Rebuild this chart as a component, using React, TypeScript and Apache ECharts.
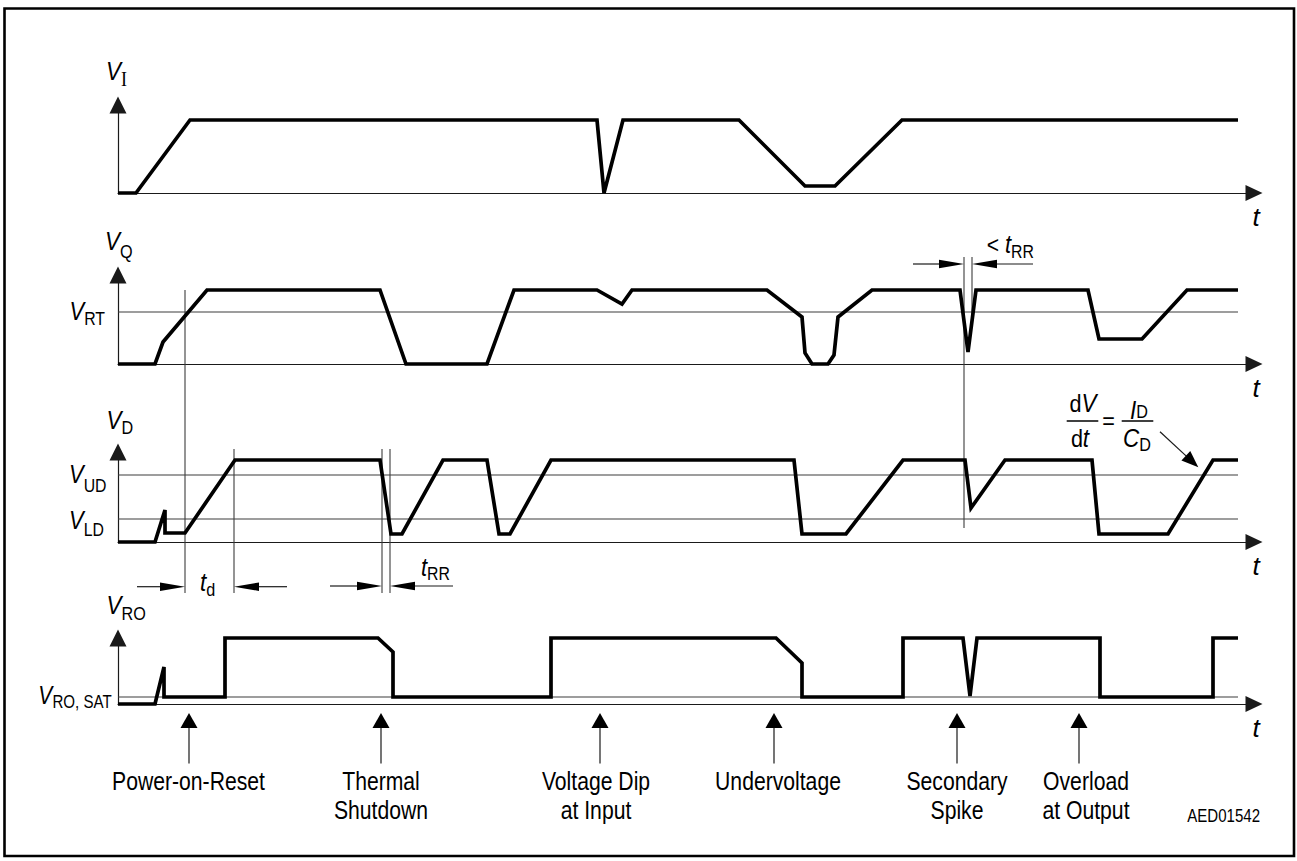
import React, { useEffect, useRef } from 'react';
import * as echarts from 'echarts';

// ---------- data (time in arbitrary units, voltage levels in arbitrary units) ----------
const T_END = 112.0;
const X_MAX = 113.6;

const VI_T = [0, 1.8, 7.2, 47.9, 48.6, 50.5, 62.1, 68.7, 71.7, 78.4, 112.0];
const VI_V = [0, 0, 7.3, 7.3, 0, 7.3, 7.3, 0.7, 0.7, 7.3, 7.3];

const VQ_T = [0, 3.7, 4.5, 8.9, 26.2, 28.8, 36.9, 39.6, 47.9, 50.4, 51.4, 64.9, 68.4, 68.7, 69.4, 71.0, 71.6, 72.0, 75.4, 84.2, 85.0, 85.8, 97.0, 98.1, 102.4, 106.9, 112.0];
const VQ_V = [0, 0, 2.2, 7.4, 7.4, 0, 0, 7.4, 7.4, 6.0, 7.4, 7.4, 4.7, 1.1, 0, 0, 0.9, 4.7, 7.4, 7.4, 1.2, 7.4, 7.4, 2.5, 2.5, 7.4, 7.4];

const VD_T = [0, 3.7, 4.7, 4.7, 6.7, 11.7, 26.2, 27.3, 28.4, 32.5, 36.9, 38.1, 39.2, 43.3, 67.6, 68.4, 72.8, 78.5, 84.7, 85.3, 88.7, 97.4, 98.1, 105.0, 109.5, 112.0];
const VD_V = [0, 0, 3.2, 0.9, 0.9, 8.2, 8.2, 0.8, 0.8, 8.2, 8.2, 0.8, 0.8, 8.2, 8.2, 0.8, 0.8, 8.2, 8.2, 3.4, 8.2, 8.2, 0.8, 0.8, 8.2, 8.2];

const VRO_T = [0, 3.7, 4.6, 4.6, 10.7, 10.7, 26.0, 27.5, 27.5, 43.3, 43.3, 65.8, 68.4, 68.4, 78.5, 78.5, 84.5, 85.2, 85.9, 98.2, 98.2, 109.5, 109.5, 112.0];
const VRO_V = [0, 0, 3.7, 0.7, 0.7, 6.6, 6.6, 5.2, 0.7, 0.7, 6.6, 6.6, 4.1, 0.7, 0.7, 6.6, 6.6, 0.8, 6.6, 6.6, 0.7, 0.7, 6.6, 6.6];

const LEVEL_RT = 5.2;
const LEVEL_UD = 6.7;
const LEVEL_LD = 2.3;
const LEVEL_RO_SAT = 0.7;

const EVENT_LABELS = ['Power-on-Reset', 'Thermal\nShutdown', 'Voltage Dip\nat Input', 'Undervoltage', 'Secondary\nSpike', 'Overload\nat Output'];
const EVENT_T = [7.1, 26.3, 48.2, 65.6, 83.9, 96.1];
const EVENT_LABEL_T = [7.05, 26.3, 47.8, 66.0, 83.9, 96.8];

// guide lines: time, from (grid, value) to (grid, value)
const GUIDES = [
  { t: 6.7, g1: 1, v1: 7.4, g2: 2, v2: -5.1 },
  { t: 11.6, g1: 2, v1: 9.3, g2: 2, v2: -5.1 },
  { t: 26.4, g1: 2, v1: 9.3, g2: 2, v2: -5.1 },
  { t: 27.2, g1: 2, v1: 9.3, g2: 2, v2: -5.1 },
  { t: 84.6, g1: 1, v1: 10.7, g2: 2, v2: 1.4 },
  { t: 85.4, g1: 1, v1: 10.7, g2: 1, v2: 4.0 },
];
// dimension arrows: grid, value, from time -> tip time
const DIMS = [
  { g: 2, v: -4.47, from: 1.9, to: 6.7 },
  { g: 2, v: -4.47, from: 16.9, to: 11.6 },
  { g: 2, v: -4.4, from: 21.2, to: 26.4 },
  { g: 2, v: -4.4, from: 33.5, to: 27.2 },
  { g: 1, v: 10.0, from: 79.5, to: 84.6 },
  { g: 1, v: 10.0, from: 91.5, to: 85.4 },
];

// ---------- layout ----------
const W = 1297;
const H = 861;
const PANELS = [
  { top: 105, bottom: 668, yMax: 8.8 },
  { top: 275, bottom: 497, yMax: 8.9 },
  { top: 452, bottom: 319, yMax: 9.0 },
  { top: 638, bottom: 157, yMax: 6.6 },
];
const FF = 'Liberation Sans';
const THIN = '#3c3c3c';

function wave(g: number, t: number[], v: number[]) {
  return {
    type: 'line', xAxisIndex: g, yAxisIndex: g, data: t.map((x, i) => [x, v[i]]),
    symbol: 'none', showSymbol: false, clip: false, silent: true, z: 5,
    lineStyle: { color: '#000', width: 3.7, join: 'miter', miterLimit: 4 },
    emphasis: { disabled: true },
  };
}
function level(g: number, y: number) {
  return {
    type: 'line', xAxisIndex: g, yAxisIndex: g, data: [[0, y], [T_END, y]],
    symbol: 'none', showSymbol: false, silent: true, z: 3,
    lineStyle: { color: THIN, width: 1.1 },
    emphasis: { disabled: true },
  };
}

function buildOption() {
  return {
    animation: false,
    backgroundColor: '#fff',
    grid: PANELS.map((p) => ({ left: 118, right: 43, top: p.top, bottom: p.bottom, containLabel: false, outerBoundsMode: 'none' })),
    xAxis: PANELS.map((p, g) => ({
      type: 'value', gridIndex: g, min: 0, max: X_MAX,
      axisLine: { show: true, onZero: false, symbol: ['none', 'triangle'], symbolSize: [16, 17], lineStyle: { color: '#1a1a1a', width: 1.2 } },
      axisTick: { show: false }, axisLabel: { show: false }, splitLine: { show: false },
    })),
    yAxis: PANELS.map((p, g) => ({
      type: 'value', gridIndex: g, min: 0, max: p.yMax,
      axisLine: { show: true, onZero: false, symbol: ['none', 'triangle'], symbolSize: [17, 17], lineStyle: { color: '#1a1a1a', width: 1.2 } },
      axisTick: { show: false }, axisLabel: { show: false }, splitLine: { show: false },
    })),
    series: [
      level(1, LEVEL_RT),
      level(2, LEVEL_UD),
      level(2, LEVEL_LD),
      level(3, LEVEL_RO_SAT),
      wave(0, VI_T, VI_V),
      wave(1, VQ_T, VQ_V),
      wave(2, VD_T, VD_V),
      wave(3, VRO_T, VRO_V),
    ],
  };
}

function rich(p: number) {
  return {
    v: { fontFamily: FF, fontSize: 25, fontStyle: 'italic', fill: '#000', verticalAlign: 'middle' },
    i: { fontFamily: FF, fontSize: 25, fontStyle: 'italic', fill: '#000', verticalAlign: 'middle' },
    n: { fontFamily: FF, fontSize: 24, fill: '#000', verticalAlign: 'middle' },
    s: { fontFamily: FF, fontSize: 18, fill: '#000', padding: [p, 0, 0, 0], verticalAlign: 'middle' },
    sr: { fontFamily: 'Liberation Serif', fontSize: 20, fill: '#000', padding: [p, 0, 0, 0], verticalAlign: 'middle' },
  };
}

function txt(text: string, x: number, y: number, o: any = {}) {
  const align = o.align || 'left';
  const va = o.va || 'middle';
  return {
    type: 'text', x, y, scaleX: o.scaleX ?? 0.86, silent: true, z: 20,
    style: {
      text, fontFamily: FF, fontSize: o.fontSize || 24, fontStyle: o.italic ? 'italic' : 'normal', fill: '#000',
      align, textAlign: align, verticalAlign: va, textVerticalAlign: va,
      lineHeight: o.lineHeight, rich: o.rich,
    },
  };
}

function seg(x1: number, y1: number, x2: number, y2: number, w = 1.2, c = '#1a1a1a') {
  return { type: 'line', silent: true, z: 2, shape: { x1, y1, x2, y2 }, style: { stroke: c, lineWidth: w } };
}

function arrow(x1: number, y1: number, tx: number, ty: number, len: number, half: number, w = 1.2) {
  const dx = tx - x1, dy = ty - y1;
  const L = Math.sqrt(dx * dx + dy * dy) || 1;
  const ux = dx / L, uy = dy / L;
  const bx = tx - ux * len, by = ty - uy * len;
  return [
    seg(x1, y1, bx + ux * 1, by + uy * 1, w),
    {
      type: 'polygon', silent: true, z: 2,
      shape: { points: [[tx, ty], [bx - uy * half, by + ux * half], [bx + uy * half, by - ux * half]] },
      style: { fill: '#000' },
    },
  ];
}

function buildGraphic(chart: any) {
  const P = (g: number, t: number, v: number) => chart.convertToPixel({ gridIndex: g }, [t, v]) as number[];
  const els: any[] = [];
  // frame
  els.push({ type: 'rect', silent: true, shape: { x: 4.5, y: 8.5, width: 1289.5, height: 847.5 }, style: { fill: 'none', stroke: '#000', lineWidth: 2.6 } });

  // guides
  GUIDES.forEach((gd) => {
    const a = P(gd.g1, gd.t, gd.v1);
    const b = P(gd.g2, gd.t, gd.v2);
    els.push(seg(a[0], a[1], b[0], b[1], 1.1, THIN));
  });
  // dimension arrows
  DIMS.forEach((d) => {
    const a = P(d.g, d.from, d.v);
    const b = P(d.g, d.to, d.v);
    els.push(...arrow(a[0], a[1], b[0], b[1], 25, 4.2));
  });
  // event arrows
  EVENT_T.forEach((t) => {
    const base = P(3, t, 0);
    els.push(...arrow(base[0], base[1] + 59.5, base[0], base[1] + 9, 15, 8.5));
  });
  EVENT_LABEL_T.forEach((t, i) => {
    const base = P(3, t, 0);
    els.push(txt(EVENT_LABELS[i], base[0], 766.5, { align: 'center', va: 'top', lineHeight: 29, fontSize: 25.5, scaleX: 0.83 }));
  });

  // axis names
  els.push(txt('{v|V}{sr|I}', 106, 71, { rich: rich(17), scaleX: 0.9 }));
  els.push(txt('{v|V}{s|Q}', 105, 241.5, { rich: rich(22), scaleX: 0.9 }));
  els.push(txt('{v|V}{s|D}', 106.5, 420.5, { rich: rich(16), scaleX: 0.9 }));
  els.push(txt('{v|V}{s|RO}', 106.5, 605, { rich: rich(18), scaleX: 0.9 }));

  // level labels
  const yRT = P(1, 0, LEVEL_RT)[1];
  const yUD = P(2, 0, LEVEL_UD)[1];
  const yLD = P(2, 0, LEVEL_LD)[1];
  const ySAT = P(3, 0, LEVEL_RO_SAT)[1];
  els.push(txt('{v|V}{s|RT}', 105, yRT, { align: 'right', rich: rich(14), scaleX: 0.88 }));
  els.push(txt('{v|V}{s|UD}', 106.5, yUD, { align: 'right', rich: rich(22), scaleX: 0.88 }));
  els.push(txt('{v|V}{s|LD}', 104, yLD + 1.5, { align: 'right', rich: rich(19), scaleX: 0.88 }));
  els.push(txt('{v|V}{s|RO, SAT}', 111.7, ySAT - 2, { align: 'right', rich: rich(15), scaleX: 0.84 }));

  // t labels at the time axes
  [0, 1, 2, 3].forEach((g) => {
    const b = P(g, X_MAX, 0);
    els.push(txt('t', 1256, b[1] + 24, { align: 'center', italic: true, fontSize: 26, scaleX: 1 }));
  });

  // timing labels
  els.push(txt('{i|t}{s|d}', 200, 582, { rich: rich(16), scaleX: 0.9 }));
  els.push(txt('{i|t}{s|RR}', 421, 567.5, { rich: rich(14), scaleX: 0.88 }));
  els.push(txt('{n|< }{i|t}{s|RR}', 986.7, 245, { rich: rich(14), scaleX: 0.88 }));

  // dV/dt = ID/CD
  els.push(txt('{n|d}{i|V}', 1083, 403.5, { align: 'center', rich: rich(0), scaleX: 0.9 }));
  els.push(seg(1066.7, 421, 1098.3, 421, 1.3, '#000'));
  els.push(txt('{n|d}{i|t}', 1080, 438.5, { align: 'center', rich: rich(0), scaleX: 0.9 }));
  els.push(txt('=', 1108.5, 420.5, { align: 'center', fontSize: 24, scaleX: 0.9 }));
  els.push(txt('{i|I}{s|D}', 1130, 410, { rich: rich(4), scaleX: 0.9 }));
  els.push(seg(1121.7, 421, 1153.3, 421, 1.3, '#000'));
  els.push(txt('{i|C}{s|D}', 1123, 438.3, { rich: rich(14), scaleX: 0.9 }));
  els.push(...arrow(1160, 431.7, 1198.3, 467.3, 17, 6.5));

  // figure code
  els.push(txt('AED01542', 1260, 816, { align: 'right', fontSize: 17.5, scaleX: 0.86 }));

  return { elements: els };
}

export default function App() {
  const ref = useRef<HTMLDivElement>(null);
  useEffect(() => {
    if (!ref.current) return;
    const chart = echarts.init(ref.current, null, { renderer: 'svg' });
    chart.setOption(buildOption() as any);
    chart.setOption({ graphic: buildGraphic(chart) } as any);
    return () => chart.dispose();
  }, []);
  return <div ref={ref} style={{ position: 'fixed', left: 0, top: 0, width: W, height: H, background: '#fff' }} />;
}
